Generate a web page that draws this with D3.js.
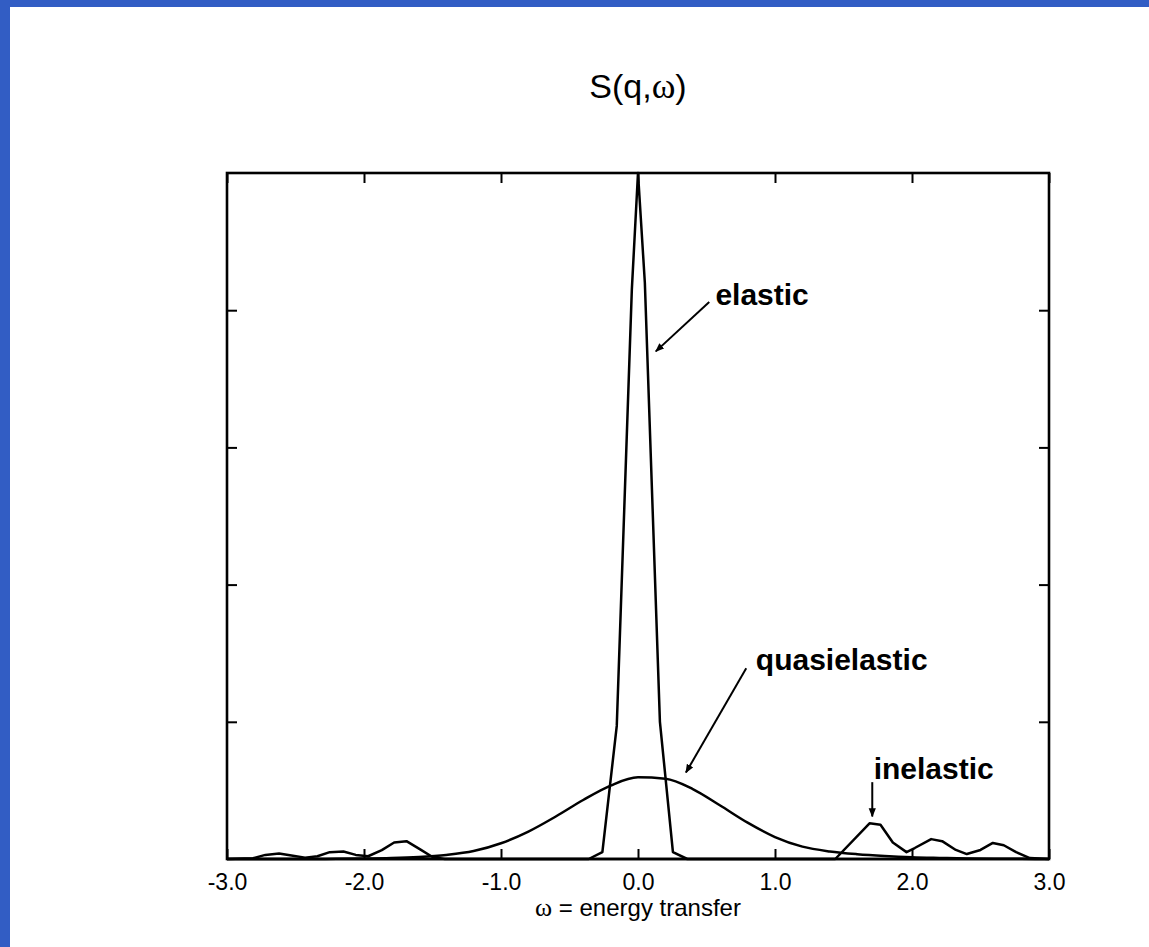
<html lang="en">

<head>
  <meta charset="UTF-8">
  <title>S(q,w)</title>
  <script src="https://d3js.org/d3.v7.min.js"></script>
  <style>
    body {
      margin: 0;
      overflow: hidden;
    }

    text {
      font-family: "Liberation Sans", Arial, sans-serif;
      fill: #000;
    }

    .greek {
      font-family: "Liberation Serif", "Times New Roman", serif;
    }

    .note {
      font-weight: bold;
      font-size: 30px;
    }
  </style>
</head>

<body>
  <svg id="chart"></svg>

  <script>
    const width = 1149;
    const height = 947;
    const margin = { top: 173, right: 99, bottom: 88, left: 227 };

    // elastic line (sharp peak at zero)
    const elasticX = [-3.0, -0.36, -0.26, -0.155, -0.045, 0.0, 0.05, 0.16, 0.255, 0.36, 3.0];
    const elasticY = [0, 0, 0.05, 0.97, 4.15, 5.0, 4.2, 1.0, 0.05, 0, 0];

    // quasielastic broad bump
    const quasiX = [-3.0, -2.8, -2.6, -2.4, -2.2, -2.0, -1.8, -1.6, -1.4, -1.2, -1.0, -0.8, -0.6, -0.4, -0.2,
      0.0, 0.2, 0.4, 0.6, 0.8, 1.0, 1.2, 1.4, 1.6, 1.8, 2.0, 2.2, 2.4, 2.6, 2.8, 3.0];
    const quasiY = [0, 0, 0, 0, 0.001, 0.003, 0.007, 0.015, 0.03, 0.058, 0.115, 0.2, 0.31, 0.43, 0.535,
      0.595, 0.585, 0.51, 0.39, 0.265, 0.16, 0.09, 0.055, 0.035, 0.022, 0.013, 0.008, 0.004, 0.002, 0.001, 0];

    // inelastic side peaks
    const inelasticX = [-3.0, -2.81, -2.72, -2.62, -2.53, -2.43, -2.34, -2.25, -2.15, -2.06, -1.97, -1.87, -1.78,
      -1.69, -1.59, -1.5, -1.41, 1.44, 1.69, 1.77, 1.86, 1.96, 2.02, 2.14, 2.22, 2.32, 2.40, 2.50, 2.59, 2.67,
      2.76, 2.86, 3.0];
    const inelasticY = [0, 0.005, 0.03, 0.04, 0.025, 0.01, 0.02, 0.05, 0.055, 0.03, 0.02, 0.065, 0.12,
      0.13, 0.07, 0.015, 0, 0, 0.26, 0.25, 0.12, 0.05, 0.08, 0.145, 0.13, 0.066, 0.036, 0.066, 0.117, 0.10,
      0.05, 0.007, 0];

    const xTicks = [-3, -2, -1, 0, 1, 2, 3];
    const yTicks = [1, 2, 3, 4];

    // annotations: label, text pos, arrow start, arrow tip (data units)
    const notes = [
      { label: "elastic", tx: 0.565, ty: 4.04, x1: 0.52, y1: 4.06, x2: 0.13, y2: 3.70 },
      { label: "quasielastic", tx: 0.86, ty: 1.38, x1: 0.79, y1: 1.39, x2: 0.35, y2: 0.63 },
      { label: "inelastic", tx: 1.72, ty: 0.58, x1: 1.71, y1: 0.56, x2: 1.71, y2: 0.31 }
    ];

    const svg = d3.select("#chart")
      .attr("width", width)
      .attr("height", height);

    // blue slide border + white page
    svg.append("rect").attr("width", width).attr("height", height).attr("fill", "#325dc4");
    svg.append("rect").attr("x", 10).attr("y", 7).attr("width", width - 10).attr("height", height - 7).attr("fill", "#fff");

    const x = d3.scaleLinear().domain([-3, 3]).range([margin.left, width - margin.right - 1]);
    const y = d3.scaleLinear().domain([0, 5]).range([height - margin.bottom - 0, margin.top]);

    const line = d3.line().x(d => x(d[0])).y(d => y(d[1]));
    const smooth = d3.line().x(d => x(d[0])).y(d => y(d[1])).curve(d3.curveMonotoneX);

    const drawSeries = (xs, ys, gen) => {
      svg.append("path")
        .datum(d3.zip(xs, ys))
        .attr("fill", "none")
        .attr("stroke", "#000")
        .attr("stroke-width", 2.5)
        .attr("stroke-linejoin", "round")
        .attr("d", gen);
    };

    drawSeries(inelasticX, inelasticY, line);
    drawSeries(quasiX, quasiY, smooth);
    drawSeries(elasticX, elasticY, line);

    // axes (ticks point inward)
    const axisB = svg.append("g")
      .attr("transform", `translate(0,${y(0)})`)
      .call(d3.axisBottom(x).tickValues(xTicks).tickSize(-10).tickSizeOuter(0).tickPadding(15).tickFormat(d => d.toFixed(1)));
    const axisT = svg.append("g")
      .attr("transform", `translate(0,${y(5)})`)
      .call(d3.axisTop(x).tickValues(xTicks).tickSize(-10).tickSizeOuter(0).tickFormat(""));
    const axisL = svg.append("g")
      .attr("transform", `translate(${x(-3)},0)`)
      .call(d3.axisLeft(y).tickValues(yTicks).tickSize(-10).tickSizeOuter(0).tickFormat(""));
    const axisR = svg.append("g")
      .attr("transform", `translate(${x(3)},0)`)
      .call(d3.axisRight(y).tickValues(yTicks).tickSize(-10).tickSizeOuter(0).tickFormat(""));

    [axisB, axisT, axisL, axisR].forEach(g => {
      g.select(".domain").remove();
      g.selectAll(".tick line").attr("stroke", "#000").attr("stroke-width", 2);
      g.selectAll("text").attr("font-size", 23).attr("font-family", "Liberation Sans, Arial, sans-serif").attr("fill", "#000");
    });

    // frame
    svg.append("rect")
      .attr("x", x(-3))
      .attr("y", y(5))
      .attr("width", x(3) - x(-3))
      .attr("height", y(0) - y(5))
      .attr("fill", "none")
      .attr("stroke", "#000")
      .attr("stroke-width", 2.6);

    // title
    const title = svg.append("text")
      .attr("x", (x(-3) + x(3)) / 2)
      .attr("y", 98)
      .attr("text-anchor", "middle")
      .attr("font-size", 34);
    title.append("tspan").text("S(q,");
    title.append("tspan").attr("class", "greek").attr("font-size", 36).text("ω");
    title.append("tspan").text(")");

    // x axis title
    const xTitle = svg.append("text")
      .attr("x", (x(-3) + x(3)) / 2)
      .attr("y", 916)
      .attr("text-anchor", "middle")
      .attr("font-size", 24);
    xTitle.append("tspan").attr("class", "greek").attr("font-size", 26).text("ω");
    xTitle.append("tspan").text(" = energy transfer");

    // arrow head
    svg.append("defs").append("marker")
      .attr("id", "head")
      .attr("viewBox", "0 0 10 10")
      .attr("refX", 9)
      .attr("refY", 5)
      .attr("markerWidth", 9)
      .attr("markerHeight", 9)
      .attr("markerUnits", "userSpaceOnUse")
      .attr("orient", "auto")
      .append("path")
      .attr("d", "M0,1 L10,5 L0,9 Z")
      .attr("fill", "#000");

    const noteG = svg.append("g");
    noteG.selectAll("line")
      .data(notes)
      .enter()
      .append("line")
      .attr("x1", d => x(d.x1))
      .attr("y1", d => y(d.y1))
      .attr("x2", d => x(d.x2))
      .attr("y2", d => y(d.y2))
      .attr("stroke", "#000")
      .attr("stroke-width", 2)
      .attr("marker-end", "url(#head)");

    noteG.selectAll("text")
      .data(notes)
      .enter()
      .append("text")
      .attr("class", "note")
      .attr("x", d => x(d.tx))
      .attr("y", d => y(d.ty))
      .text(d => d.label);
  </script>
</body>

</html>
